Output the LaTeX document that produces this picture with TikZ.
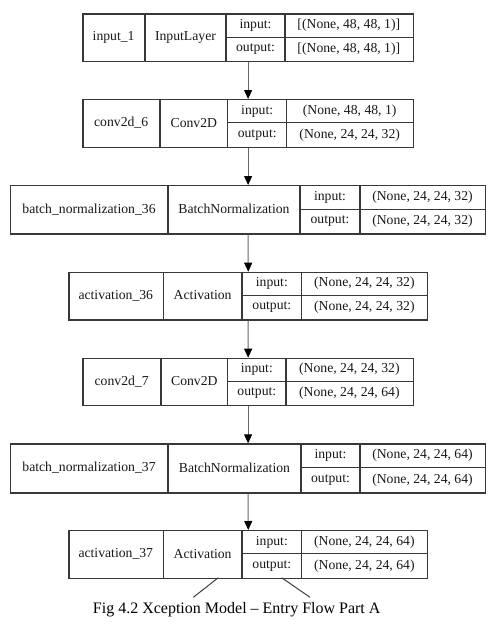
\documentclass[tikz,border=0pt]{standalone}
\usepackage{fontspec}
\setmainfont{Liberation Serif}
\usetikzlibrary{arrows.meta}
\tikzset{
  layerbox/.style={draw=black!78, line width=1.2pt, inner sep=0pt, fill=white},
  cellline/.style={draw=black!78, line width=1.1pt},
  celltext/.style={font=\fontsize{13.7}{15}\selectfont, text=black!90, inner sep=0pt},
  flow/.style={draw=black!60, line width=1pt, -{Triangle[width=8pt,length=9pt,color=black]}},
  tail/.style={draw=black!75, line width=1pt},
  captext/.style={font=\fontsize{16}{18}\selectfont, inner sep=0pt}
}
% #1 node name, #2 layer name text, #3 ytop, #4 ybot, #5..#9 x of left, dividers, right
\newcommand\klayer[9]{%
  \node[layerbox, anchor=north west, minimum width={#9-#5}, minimum height={#4-#3}] (#1) at (#5,#3) {};
  \draw[cellline] (#6,#3) -- (#6,#4);
  \draw[cellline] (#7,#3) -- (#7,#4);
  \draw[cellline] (#8,#3) -- (#8,#4);
  \draw[cellline] (#7,{(#3+#4)/2}) -- (#9,{(#3+#4)/2});
  \node[celltext] (#1-name) at ({(#5+#6)/2},{(#3+#4)/2}) {#2};
  \node[celltext] (#1-type) at ({(#6+#7)/2},{(#3+#4)/2}) {\ktype};
  \node[celltext] (#1-inl) at ({(#7+#8)/2},{(3*#3+#4)/4}) {input:};
  \node[celltext] (#1-outl) at ({(#7+#8)/2},{(#3+3*#4)/4}) {output:};
  \node[celltext] (#1-in) at ({(#8+#9)/2},{(3*#3+#4)/4}) {\kin};
  \node[celltext] (#1-out) at ({(#8+#9)/2},{(#3+3*#4)/4}) {\kout};
}
\begin{document}
\begin{tikzpicture}[x=1pt,y=-1pt]
\useasboundingbox[fill=white] (0,0) rectangle (503,627);

\def\ktype{InputLayer}\def\kin{[(None, 48, 48, 1)]}\def\kout{[(None, 48, 48, 1)]}
\klayer{L1}{input\_1}{13.3}{61}{82.3}{145}{226}{285}{412.7}

\def\ktype{Conv2D}\def\kin{(None, 48, 48, 1)}\def\kout{(None, 24, 24, 32)}
\klayer{L2}{conv2d\_6}{99}{146.7}{82.3}{160}{227.7}{286.7}{412.7}

\def\ktype{BatchNormalization}\def\kin{(None, 24, 24, 32)}\def\kout{(None, 24, 24, 32)}
\klayer{L3}{batch\_normalization\_36}{185}{233.3}{10}{168}{300}{360}{485}

\def\ktype{Activation}\def\kin{(None, 24, 24, 32)}\def\kout{(None, 24, 24, 32)}
\klayer{L4}{activation\_36}{271.7}{319.3}{68.3}{163.3}{242}{301.7}{427}

\def\ktype{Conv2D}\def\kin{(None, 24, 24, 32)}\def\kout{(None, 24, 24, 64)}
\klayer{L5}{conv2d\_7}{357.7}{405}{82.3}{161}{227.7}{286}{412.7}

\def\ktype{BatchNormalization}\def\kin{(None, 24, 24, 64)}\def\kout{(None, 24, 24, 64)}
\klayer{L6}{batch\_normalization\_37}{443.3}{492.3}{10}{168}{301}{360}{485}

\def\ktype{Activation}\def\kin{(None, 24, 24, 64)}\def\kout{(None, 24, 24, 64)}
\klayer{L7}{activation\_37}{530}{577.7}{68.3}{163.3}{242}{301.7}{427}

\draw[flow] (L1.south) -- (L2.north);
\draw[flow] (L2.south) -- (L3.north);
\draw[flow] (L3.south) -- (L4.north);
\draw[flow] (L4.south) -- (L5.north);
\draw[flow] (L5.south) -- (L6.north);
\draw[flow] (L6.south) -- (L7.north);

\coordinate (t1s) at (218.3,577.7);
\coordinate (t1e) at (193.3,597.3);
\coordinate (t2s) at (281.7,577.7);
\coordinate (t2e) at (310,597.3);
\draw[tail] (t1s) -- (t1e);
\draw[tail] (t2s) -- (t2e);

\node[captext] (cap) at (236.7,609.5) {Fig 4.2 Xception Model – Entry Flow Part A};
\end{tikzpicture}
\end{document}
